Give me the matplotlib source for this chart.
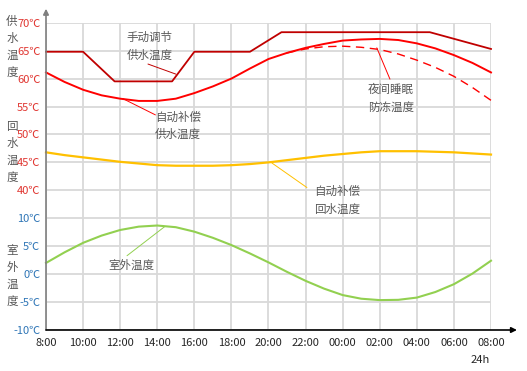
import matplotlib
matplotlib.use("Agg")
import matplotlib.pyplot as plt

plt.rcParams['font.family'] = ['Noto Sans CJK SC', 'DejaVu Sans']

# hours from 8:00 (8) to next day 08:00 (32)
hours = list(range(8, 33))
x_labels = ["8:00", "10:00", "12:00", "14:00", "16:00", "18:00", "20:00",
            "22:00", "00:00", "02:00", "04:00", "06:00", "08:00"]

# stacked y scale: 11 equal steps
y_labels = ["-10℃", "-5℃", "0℃", "5℃", "10℃", "40℃", "45℃",
            "50℃", "55℃", "60℃", "65℃", "70℃"]

# manual supply temp (breakpoints)
manual_h = [8, 10, 11.7, 14.8, 16, 19, 20.7, 28.7, 32]
manual_t = [64.8, 64.8, 59.5, 59.5, 64.8, 64.8, 68.3, 68.3, 65.3]

# auto compensated supply temp
supply_t = [61.1, 59.4, 58.0, 57.0, 56.4, 56.0, 56.0, 56.4, 57.4, 58.6, 60.0,
            61.8, 63.5, 64.6, 65.5, 66.2, 66.8, 67.0, 67.1, 66.9, 66.3, 65.4,
            64.2, 62.8, 61.1]

# night antifreeze temp (dashed)
night_h = [21, 22, 23, 24, 25, 26, 27, 28, 29, 30, 31, 32]
night_t = [64.6, 65.3, 65.7, 65.8, 65.6, 65.2, 64.4, 63.3, 62.0, 60.4, 58.4, 56.1]

# auto compensated return temp
return_t = [46.8, 46.3, 45.9, 45.5, 45.1, 44.8, 44.5, 44.4, 44.4, 44.4, 44.5,
            44.7, 45.0, 45.4, 45.8, 46.2, 46.5, 46.8, 47.0, 47.0, 47.0, 46.9,
            46.8, 46.6, 46.4]

# outdoor temp
outdoor_t = [2.0, 3.9, 5.6, 6.9, 7.9, 8.5, 8.7, 8.4, 7.6, 6.5, 5.2, 3.7, 2.1,
             0.4, -1.2, -2.6, -3.75, -4.4, -4.65, -4.6, -4.2, -3.2, -1.8, 0.1, 2.4]


def water(v):
    if isinstance(v, list):
        return [5 + (x - 40) / 5 for x in v]
    return 5 + (v - 40) / 5


def outdoor(v):
    if isinstance(v, list):
        return [(x + 10) / 5 for x in v]
    return (v + 10) / 5


W, H = 527, 371
fig = plt.figure(figsize=(W / 100, H / 100), dpi=100)
ax = fig.add_axes([46 / W, 41 / H, 445 / W, (330 - 22.7) / H])
ax.set_xlim(8, 32)
ax.set_ylim(0, 11)
for s in ax.spines.values():
    s.set_visible(False)

ax.set_xticks(range(8, 33, 2))
ax.set_xticklabels(x_labels, fontsize=8, color='#262626')
ax.set_yticks(range(12))
ax.set_yticklabels(y_labels, fontsize=8)
for i, t in enumerate(ax.get_yticklabels()):
    t.set_color('#2e75b6' if i < 5 else '#e03530')
ax.tick_params(length=0)
ax.tick_params(axis='x', pad=6)
ax.tick_params(axis='y', pad=4)
ax.grid(True, color='#d9d9d9', linewidth=1.3)
ax.set_axisbelow(True)

# axes with arrows
ax.annotate('', xy=(8, 11.5), xytext=(8, 0), annotation_clip=False,
            arrowprops=dict(arrowstyle='-|>', color='#7f7f7f', lw=1.2,
                            mutation_scale=8, shrinkA=0, shrinkB=0))
ax.annotate('', xy=(33.4, 0), xytext=(8, 0), annotation_clip=False,
            arrowprops=dict(arrowstyle='-|>', color='black', lw=1.2,
                            mutation_scale=8, shrinkA=0, shrinkB=0))

ax.plot(manual_h, water(manual_t), color='#c00000', lw=1.3, clip_on=False)
ax.plot(hours, water(supply_t), color='#ff0000', lw=1.4, clip_on=False)
ax.plot(night_h, water(night_t), color='#ff0000', lw=1.0, dashes=(6, 4), clip_on=False)
ax.plot(hours, water(return_t), color='#ffc000', lw=1.6, clip_on=False)
ax.plot(hours, outdoor(outdoor_t), color='#92d050', lw=1.5, clip_on=False)

txt = dict(fontsize=8.3, color='#595959', ha='center', va='center', linespacing=1.45)


def leader(p0, p1, color):
    ax.annotate('', xy=p1, xytext=p0, annotation_clip=False,
                arrowprops=dict(arrowstyle='-', color=color, lw=0.7, shrinkA=0, shrinkB=0))


ax.text(13.6, water(65.75), '手动调节\n供水温度', **txt)
leader((13.5, water(62.6)), (15.0, water(60.8)), '#c00000')

ax.text(15.1, water(51.5), '自动补偿\n供水温度', **txt)
leader((12.15, water(56.4)), (13.9, water(53.5)), '#ff0000')

ax.text(26.6, water(56.5), '夜间睡眠\n防冻温度', **txt)
leader((25.84, water(65.5)), (26.55, water(59.9)), '#ff0000')

ax.text(23.7, water(38.2), '自动补偿\n回水温度', **txt)
leader((20.18, water(44.9)), (22.07, water(40.5)), '#ffc000')

ax.text(12.6, outdoor(1.55), '室外温度', **txt)
leader((14.4, outdoor(8.5)), (12.37, outdoor(3.3)), '#92d050')

# side titles
side = dict(fontsize=8.3, color='#595959', ha='center', va='center', linespacing=1.4)
fig.text(12 / W, 1 - 47 / H, '供\n水\n温\n度', **side)
fig.text(12 / W, 1 - 152 / H, '回\n水\n温\n度', **side)
fig.text(12 / W, 1 - 276 / H, '室\n外\n温\n度', **side)
fig.text(480 / W, 1 - 360 / H, '24h', fontsize=8, color='#262626', ha='center', va='center')

fig.savefig('out.png', dpi=100)
